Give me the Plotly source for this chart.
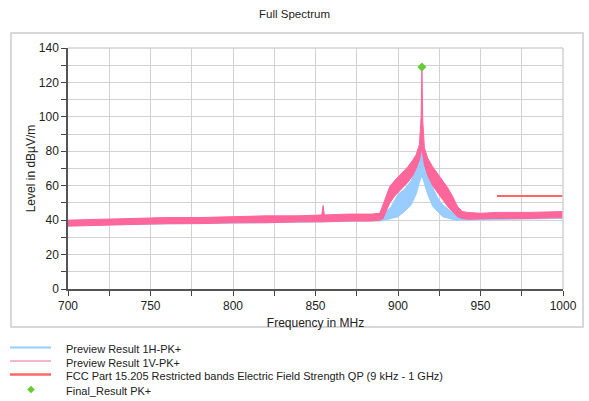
import plotly.graph_objects as go

# ---- data ----
v_freq = [700, 720, 740, 760, 780, 800, 820, 840, 853.8, 854.6, 855.4, 870, 884, 889, 891, 893, 895, 898,
          902, 906, 909, 911, 913, 914, 914.5, 915, 916, 918, 921, 924, 927, 930, 933, 936, 939, 942,
          950, 960, 980, 1000]
v_upper = [40, 40.5, 41, 41.5, 41.5, 42, 42.5, 42.5, 43, 48.5, 43, 43.5, 43.5, 44, 49, 55, 59.5, 63,
           67, 71, 75, 78, 84, 100, 129, 98, 82, 76, 71, 67, 63, 59, 54, 48, 45, 44.5,
           44, 44.5, 44.5, 45]
v_lower = [36.5, 37, 37.5, 38, 38, 38.5, 38.5, 39, 39, 39, 39, 39.5, 39.5, 40, 41, 45, 50, 54,
           58, 62, 66, 70, 75, 80, 81, 78, 72, 66, 60, 56, 52, 48, 45, 42, 41, 40.5,
           40.5, 41, 41, 41.5]

h_freq = [700, 740, 780, 820, 860, 885, 890, 893, 896, 900, 904, 908, 911, 913, 914.5,
          916, 918, 921, 924, 927, 931, 935, 938, 942, 970, 1000]
h_upper = [39.5, 40.5, 41, 42, 42.5, 43, 43, 45, 48, 55, 58, 63, 71, 76, 81,
           74, 67, 59, 53, 49, 46, 43, 42.5, 42.5, 43, 44]
h_lower = [37, 37.5, 38, 38.5, 39, 39.5, 39.5, 40, 41, 42, 45, 49, 55, 62, 66,
           62, 55, 48, 45, 42, 41, 40, 40, 40, 40.5, 41]

limit_freq = [960, 1000]
limit_level = [54, 54]

final_freq = [914.5]
final_level = [129]

names = ["Preview Result 1H-PK+", "Preview Result 1V-PK+",
         "FCC Part 15.205 Restricted bands Electric Field Strength QP (9 kHz - 1 GHz)",
         "Final_Result PK+"]

BLUE = "#99CCFF"
PINK = "#FF6699"
RED = "#FF6666"
GREEN = "#66CC33"

fig = go.Figure()

# 1H band
fig.add_trace(go.Scatter(x=h_freq + h_freq[::-1], y=h_upper + h_lower[::-1], fill="toself",
                         fillcolor=BLUE, line=dict(color=BLUE, width=1), mode="lines",
                         name=names[0], showlegend=False, hoverinfo="skip"))
# 1V band
fig.add_trace(go.Scatter(x=v_freq + v_freq[::-1], y=v_upper + v_lower[::-1], fill="toself",
                         fillcolor=PINK, line=dict(color=PINK, width=1), mode="lines",
                         name=names[1], showlegend=False, hoverinfo="skip"))
# limit
fig.add_trace(go.Scatter(x=limit_freq, y=limit_level, mode="lines",
                         line=dict(color=RED, width=2), name=names[2], showlegend=False))
# final result
fig.add_trace(go.Scatter(x=final_freq, y=final_level, mode="markers", name=names[3],
                         marker=dict(symbol="diamond", color=GREEN, size=7), showlegend=False))

L, R, T, B = 68, 26, 48, 112
W, H = 589, 401
pw, ph = W - L - R, H - T - B


def px(xpix):
    return (xpix - L) / pw


def py(ypix):
    return (H - B - ypix) / ph


# manual legend (row spacing of the reference is tighter than plotly's legend)
legend_rows = [347.5, 361, 374.5, 389.5]
legend_styles = [(BLUE, 2), (PINK, 1), (RED, 2.5), None]
shapes = [
    dict(type="rect", xref="paper", yref="paper", x0=px(11), x1=px(583), y0=py(327), y1=py(33),
         line=dict(color="#cccccc", width=1.5), fillcolor="rgba(0,0,0,0)", layer="below"),
    dict(type="line", xref="paper", yref="paper", x0=0, x1=1, y0=1, y1=1,
         line=dict(color="#d2d2d2", width=1.5)),
    dict(type="line", xref="paper", yref="paper", x0=1, x1=1, y0=0, y1=1,
         line=dict(color="#d2d2d2", width=1.5)),
]
annotations = []
for name, row, style in zip(names, legend_rows, legend_styles):
    if style is not None:
        shapes.append(dict(type="line", xref="paper", yref="paper", x0=px(10), x1=px(51),
                           y0=py(row), y1=py(row), line=dict(color=style[0], width=style[1])))
    else:
        cx, cy, r = 31, row, 3.6
        path = (f"M {px(cx)} {py(cy - r)} L {px(cx + r)} {py(cy)} L {px(cx)} {py(cy + r)} "
                f"L {px(cx - r)} {py(cy)} Z")
        shapes.append(dict(type="path", xref="paper", yref="paper", path=path,
                           fillcolor=GREEN, line=dict(color=GREEN, width=0.5)))
    annotations.append(dict(text=name, xref="paper", yref="paper", x=px(64), y=py(row + 1.5),
                            xanchor="left", yanchor="middle", showarrow=False,
                            font=dict(size=11, color="#222222")))

fig.update_layout(
    width=W, height=H,
    margin=dict(l=L, r=R, t=T, b=B, autoexpand=False),
    showlegend=False,
    paper_bgcolor="white", plot_bgcolor="white",
    font=dict(family="Liberation Sans, Arial, sans-serif", size=12, color="#222222"),
    title=dict(text="Full Spectrum", x=0.5, xanchor="center", y=1 - 14 / H, yanchor="middle",
               yref="container", font=dict(size=11.5)),
    xaxis=dict(range=[700, 1000], dtick=50, tick0=700, showgrid=True, gridcolor="#d2d2d2", gridwidth=1,
               ticks="outside", ticklen=5, tickcolor="#444", showline=True, linecolor="#555", linewidth=1.5,
               minor=dict(dtick=25, showgrid=True, gridcolor="#d2d2d2", ticks="outside", ticklen=5,
                          tickcolor="#444"),
               zeroline=False, title=dict(text="Frequency in MHz", font=dict(size=12), standoff=6),
               tickfont=dict(size=12)),
    yaxis=dict(range=[0, 140], dtick=20, tick0=0, showgrid=True, gridcolor="#d2d2d2", gridwidth=1,
               ticks="outside", ticklen=5, tickcolor="#444", showline=True, linecolor="#555", linewidth=1.5,
               minor=dict(dtick=10, showgrid=True, gridcolor="#d2d2d2", ticks="outside", ticklen=5,
                          tickcolor="#444"),
               zeroline=False, title=dict(text="Level in dBµV/m", font=dict(size=12), standoff=1),
               tickfont=dict(size=12)),
    shapes=shapes,
    annotations=annotations,
)

fig.write_html("out.html")
